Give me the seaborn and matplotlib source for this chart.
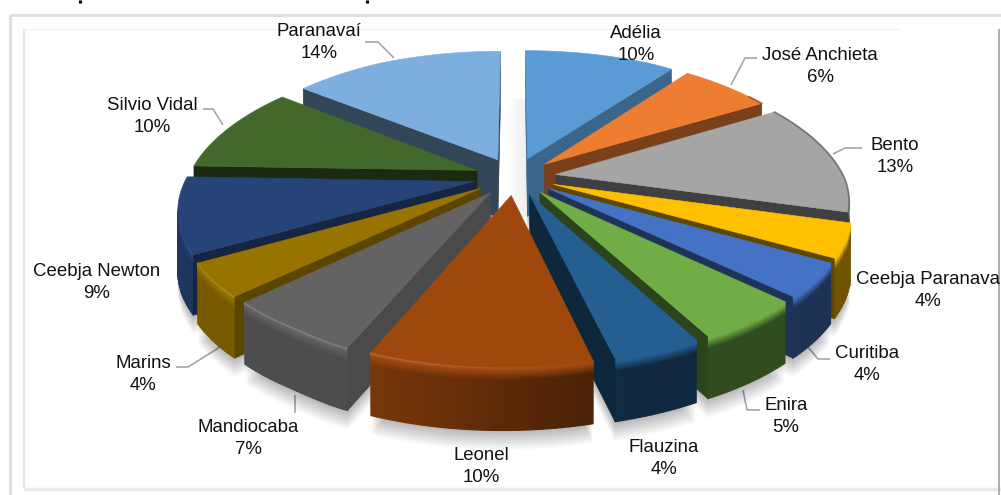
import numpy as np
import matplotlib
matplotlib.use("Agg")
import matplotlib.pyplot as plt
from matplotlib.collections import PolyCollection
from matplotlib.patches import Polygon
import seaborn as sns

# Share of respondents per locality, clockwise from twelve o'clock
localities = ["Adélia", "José Anchieta", "Bento", "Ceebja Paranava", "Curitiba", "Enira",
              "Flauzina", "Leonel", "Mandiocaba", "Marins", "Ceebja Newton", "Silvio Vidal",
              "Paranavaí"]
shares = [10, 6, 13, 4, 4, 5, 4, 10, 7, 4, 9, 10, 14]
slice_colors = ["#5B9BD5", "#ED7D31", "#A5A5A5", "#FFC000", "#4472C4", "#70AD47", "#255E91",
                "#9E480E", "#636363", "#997300", "#264478", "#43682B", "#7CAFDD"]
# Brightness of each slice's flat cut faces
cut_face_light = [0.65, 0.51, 0.39, 0.37, 0.45, 0.39, 0.41, 0.5, 0.75, 0.6, 0.55, 0.4, 0.4]

# Label centres (first line) in figure pixels
label_xy = [(636, 33), (820, 55), (895, 145), (928, 280), (867, 354), (786, 405), (664, 448),
            (481, 455), (248, 428), (143, 363), (97, 272), (152, 106), (319, 31)]
# Leader lines in figure pixels
leaders = [[(365, 42), (378, 42), (394, 58)], [(757, 58), (745, 58), (731, 85)],
           [(862, 148), (845, 148), (833, 154)], [(851, 284), (838, 305)],
           [(830, 359), (818, 359), (808, 347)], [(760, 410), (747, 410), (743, 390)],
           [(176, 367), (188, 367), (220, 347)], [(295, 413), (295, 395)],
           [(203, 109), (213, 109), (223, 125)]]

sns.set_theme(style="white")
plt.rcParams["font.family"] = ["Liberation Sans", "DejaVu Sans"]
palette = sns.color_palette(slice_colors)

fig = plt.figure(figsize=(10.01, 4.95), dpi=100, facecolor="white")
ax = fig.add_axes([0, 0, 1, 1])
ax.set_xlim(0, 1001)
ax.set_ylim(495, 0)
ax.axis("off")

# Camera model of the tilted pie
CX, CY = 515.0, 176.0
RX, RY = 290.0, 133.0
PERSP = 0.18
EXPLODE = 0.142
DEPTH = 58.0


def project(u, v, drop=0.0):
    s = 1.0 / (1.0 + PERSP * v)
    near = np.clip(-v, 0, 1.2)
    left = np.clip((-u - 0.4) / 0.28, 0, 1)
    left = left * left * (3 - 2 * left)
    x = CX + RX * u * s + near * (-8 + 13 * left)
    y = CY - RY * v * s + 5 * (1 - min(1.0, v * v)) * np.clip(abs(u) * 2, 0, 1)
    return (x, y + drop * (1 - 0.08 * v))


def mix(a, b, t):
    return tuple((1 - t) * np.array(a) + t * np.array(b))


def is_front(p, q, inner):
    # True when the edge p-q has the solid above it on screen
    nx, ny = -(q[1] - p[1]), q[0] - p[0]
    if ny < 0:
        nx, ny = -nx, -ny
    return (inner[0] - p[0]) * nx + (inner[1] - p[1]) * ny < 0


total = sum(shares)
edges = np.concatenate([[0], np.cumsum(shares)]) / total * 2 * np.pi
slices = []
for i, colour in enumerate(palette):
    a0, a1 = edges[i], edges[i + 1]
    mid = (a0 + a1) / 2
    ox, oy = EXPLODE * np.sin(mid), EXPLODE * np.cos(mid)
    th = np.linspace(a0, a1, max(10, int((a1 - a0) * 60)))
    rim = [(ox + np.sin(t), oy + np.cos(t)) for t in th]
    slices.append(dict(i=i, mid=mid, th=th, apex=(ox, oy), rim=rim, colour=colour))

# Soft shadow under the whole solid
for d in range(1, 19):
    for s in slices:
        outline = [project(*s["apex"], DEPTH + d)] + [project(u, v, DEPTH + d) for u, v in s["rim"]]
        ax.add_patch(Polygon(outline, closed=True, fc="black", ec="none", alpha=0.014, zorder=1))

# Faint shadow cast into the gap left of the first slice
gap_x, gap_y = project(*slices[0]["apex"])
for d in range(1, 19):
    ax.fill_betweenx([gap_y - 60, gap_y + DEPTH], gap_x - d, gap_x, color="black", alpha=0.005,
                     linewidth=0, zorder=1)

order = sorted(slices, key=lambda s: -np.cos(s["mid"]))
z = 2
for s in order:
    top = s["colour"]
    side = tuple(np.array(top) * cut_face_light[s["i"]])
    apex_top = project(*s["apex"])
    rim_top = [project(u, v) for u, v in s["rim"]]
    inner = (np.mean([p[0] for p in rim_top] + [apex_top[0]]),
             np.mean([p[1] for p in rim_top] + [apex_top[1]]))

    # Outer curved wall: lit from the left, with a soft bevel under the rim
    polys, cols = [], []
    for j in range(len(rim_top) - 1):
        p, q = rim_top[j], rim_top[j + 1]
        u0, v0 = s["rim"][j]
        u1, v1 = s["rim"][j + 1]
        if not is_front(p, q, inner):
            continue
        light = np.interp(-np.sin(s["th"][j]), [-0.3, 0.4], [0.44, 0.78])
        wall = tuple(np.array(top) * light)
        glow = np.interp(light, [0.44, 0.78], [0.0, 0.28])
        steps = [0, 1, 2, 3, 4, 5, 6, 7, 8, 9, 10, 11, 12, 13]
        for d0, d1 in zip(steps[:-1], steps[1:]):
            t = d0 / 12
            if t < 0.25:
                c = mix(mix(top, (1, 1, 1), glow), top, t / 0.25)
            else:
                c = mix(top, wall, (t - 0.25) / 0.75)
            polys.append([project(u0, v0, d0), project(u1, v1, d0), project(u1, v1, d1), project(u0, v0, d1)])
            cols.append(c)
        polys.append([project(u0, v0, 13), project(u1, v1, 13), project(u1, v1, DEPTH), project(u0, v0, DEPTH)])
        cols.append(wall)
    if polys:
        ax.add_collection(PolyCollection(polys, facecolors=cols, edgecolors=cols, linewidths=0.9, zorder=z))
    z += 1

    # Flat cut faces on either side of the slice
    for end in (0, -1):
        uv = s["rim"][end]
        if is_front(apex_top, rim_top[end], inner):
            face = [apex_top, rim_top[end], project(*uv, DEPTH), project(*s["apex"], DEPTH)]
            ax.add_patch(Polygon(face, closed=True, fc=side, ec=side, lw=0.4, zorder=z))
            z += 1

    # Top surface
    ax.add_patch(Polygon([apex_top] + rim_top, closed=True, fc=top, ec=top, lw=0.4, zorder=z))
    z += 1

    # Dark edge along the far right of the rim
    far = [p for (u, v), p in zip(s["rim"], rim_top) if u > 0.9 and v >= -0.3]
    if len(far) > 1:
        xs, ys = zip(*far)
        ax.plot(xs, ys, color=tuple(np.array(top) * 0.5), lw=1.3, alpha=0.65, zorder=z)
        z += 1

# Leader lines and labels
for path in leaders:
    xs, ys = zip(*path)
    ax.plot(xs, ys, color="#a6a6a6", lw=1.2, zorder=0.9, solid_capstyle="butt")
for name, share, (x, y) in zip(localities, shares, label_xy):
    ax.text(x, y, name, ha="center", va="center", fontsize=13.4, color="#111111", zorder=z + 1)
    ax.text(x, y + 22, f"{share}%", ha="center", va="center", fontsize=13.4, color="#111111", zorder=z + 1)

# Chart frames
frame_lines = [([10, 1001], [15, 15], "#dddddd", 2.0), ([10, 10], [15, 495], "#dddddd", 2.0),
               ([24, 900], [29, 29], "#f2f2f2", 1.0), ([24, 24], [29, 488], "#e8e8e8", 1.5),
               ([24, 1001], [489, 489], "#e9e9e9", 2.5), ([998.5, 998.5], [29, 495], "#a0a0a0", 1.2)]
for xs, ys, colour, width in frame_lines:
    ax.plot(xs, ys, color=colour, lw=width, zorder=0.5, solid_capstyle="butt")

# Strokes of the heading that run off the top edge
for x in (80, 367):
    ax.plot([x, x], [0, 3], color="black", lw=2.2, solid_capstyle="butt", zorder=0.5)

fig.savefig("out.png", dpi=100)
